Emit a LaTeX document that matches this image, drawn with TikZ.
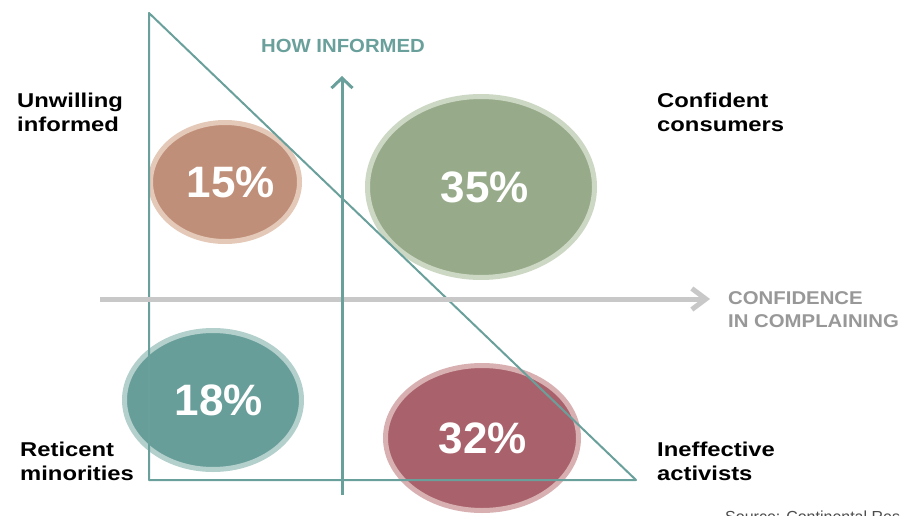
\documentclass[tikz,border=0pt]{standalone}
\usepackage{fontspec}
\setmainfont{Liberation Sans}
\newfontfamily\quadfont{Liberation Sans}[FakeStretch=1.19]
\newfontfamily\howfont{Liberation Sans}[FakeStretch=1.07]
\newfontfamily\axisfont{Liberation Sans}[FakeStretch=1.1]
\usetikzlibrary{shapes.geometric,arrows.meta}
\definecolor{tealColor}{RGB}{106,160,155}
\definecolor{axisColor}{RGB}{200,200,200}
\definecolor{axisText}{RGB}{152,152,152}
\definecolor{rustFill}{RGB}{192,143,121}
\definecolor{rustRim}{RGB}{228,200,184}
\definecolor{sageFill}{RGB}{151,171,138}
\definecolor{sageRim}{RGB}{205,216,196}
\definecolor{tealFill}{RGB}{104,158,153}
\definecolor{tealRim}{RGB}{180,208,204}
\definecolor{wineFill}{RGB}{169,98,107}
\definecolor{wineRim}{RGB}{216,176,178}
\tikzset{
  blob/.style={ellipse,inner sep=0pt,line width=5pt,text=white,
    font=\fontsize{44}{44}\selectfont\bfseries},
  quadlabel/.style={anchor=west,align=left,inner sep=0pt,
    font=\quadfont\fontsize{20}{24}\selectfont\bfseries},
}
\begin{document}
\begin{tikzpicture}[x=1pt,y=1pt]
\path[use as bounding box,fill=white] (0,0) rectangle (901,515);

% the four groups
\node[blob,fill=rustFill,draw=rustRim,minimum width=149,minimum height=119] (unwilling) at (225,333) {\hspace*{12pt}15\%};
\node[blob,fill=sageFill,draw=sageRim,minimum width=227,minimum height=181] (confident) at (481,328) {\hspace*{8pt}35\%};
\node[blob,fill=tealFill,draw=tealRim,minimum width=177,minimum height=139] (reticent) at (213,115) {\hspace*{12pt}18\%};
\node[blob,fill=wineFill,draw=wineRim,minimum width=193,minimum height=145] (ineffective) at (482,77) {\hspace*{2pt}32\%};

% triangle
\coordinate (top) at (149,502);
\coordinate (corner) at (149,35);
\coordinate (tip) at (636,35);
\path[draw=tealColor,line width=2pt,line join=round] (top) -- (corner) -- (tip) -- cycle;

% axes
\coordinate (xstart) at (100,216);
\coordinate (xend) at (710,216);
\coordinate (ystart) at (342,20);
\coordinate (yend) at (342,439);
\path[draw=axisColor,line width=5pt,-{Straight Barb[length=14pt,width=21pt]}] (xstart) -- (xend);
\path[draw=tealColor,line width=3pt,-{Straight Barb[length=10pt,width=21pt]}] (ystart) -- (yend);

\node[text=tealColor,inner sep=0pt,font=\howfont\fontsize{19}{19}\selectfont\bfseries] (howinf) at (343,469) {HOW INFORMED};
\node[quadlabel,text=axisText,font=\axisfont\fontsize{18.5}{23}\selectfont\bfseries] (confid) at (728,205) {CONFIDENCE\\IN COMPLAINING};

% quadrant names
\node[quadlabel] (nw) at (17,403) {Unwilling\\informed};
\node[quadlabel] (ne) at (657,403) {Confident\\consumers};
\node[quadlabel] (sw) at (20,54) {Reticent\\minorities};
\node[quadlabel] (se) at (657,54) {Ineffective\\activists};

% source, cut off by the page edge
\begin{scope}
\path[clip] (0,0) rectangle (901,515);
\node[anchor=base west,inner sep=0pt,text=black!70,font=\fontsize{16}{16}\selectfont] (source) at (725,-7) {Source: Continental Research};
\end{scope}
\end{tikzpicture}
\end{document}
